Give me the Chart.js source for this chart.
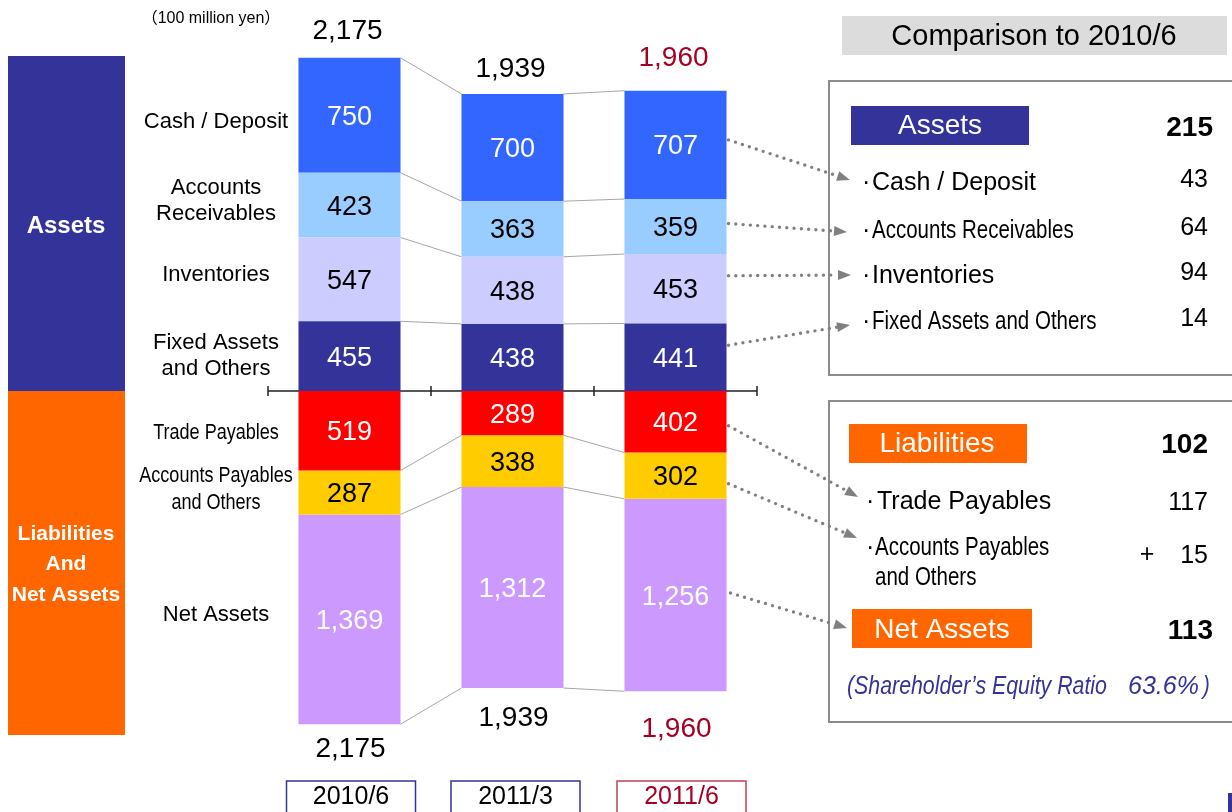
<!DOCTYPE html>
<html>
<head>
<meta charset="utf-8">
<script src="https://cdn.jsdelivr.net/npm/chart.js@4.4.1/dist/chart.umd.min.js"></script>
<style>
  html, body { margin: 0; padding: 0; background: #fff; }
</style>
</head>
<body>
<canvas id="balanco" width="1232" height="812"></canvas>
<script>
// Periods and balance sheet values (100 million yen)
var periods = ["2010/6", "2011/3", "2011/6"];
var cashDeposit = [750, 700, 707];
var receivables = [423, 363, 359];
var inventories = [547, 438, 453];
var fixedAssets = [455, 438, 441];
var tradePayables = [519, 289, 402];
var otherPayables = [287, 338, 302];
var netAssets = [1369, 1312, 1256];
var totals = [2175, 1939, 1960];
var equityRatio = "63.6%";

// Liabilities go below the zero line
function negativo(arr) {
  return arr.map(function (v) { return -v; });
}

var FONTE = "'Liberation Sans', Arial, sans-serif";

function texto(ctx, str, x, y, size, opts) {
  opts = opts || {};
  ctx.save();
  ctx.font = (opts.italic ? "italic " : "") + (opts.bold ? "bold " : "") + size + "px " + (opts.family || FONTE);
  ctx.fillStyle = opts.color || "#000";
  ctx.textAlign = opts.align || "center";
  ctx.textBaseline = "middle";
  ctx.translate(x, y);
  ctx.scale(opts.narrow ? 0.82 : 1, 1);
  ctx.fillText(str, 0, 0);
  ctx.restore();
}

function seta(ctx, x1, y1, x2, y2) {
  var ang = Math.atan2(y2 - y1, x2 - x1);
  var ex = x2 - 13 * Math.cos(ang);
  var ey = y2 - 13 * Math.sin(ang);
  ctx.save();
  ctx.strokeStyle = "#808080";
  ctx.fillStyle = "#808080";
  ctx.lineWidth = 3.4;
  ctx.lineCap = "round";
  ctx.setLineDash([0, 7.3]);
  ctx.beginPath();
  ctx.moveTo(x1, y1);
  ctx.lineTo(ex, ey);
  ctx.stroke();
  ctx.setLineDash([]);
  ctx.beginPath();
  ctx.moveTo(x2, y2);
  ctx.lineTo(ex + 5 * Math.sin(ang), ey - 5 * Math.cos(ang));
  ctx.lineTo(ex - 5 * Math.sin(ang), ey + 5 * Math.cos(ang));
  ctx.closePath();
  ctx.fill();
  ctx.restore();
}

// Rectangle of one bar segment, taken from the chart elements
function retangulo(chart, di, j) {
  var el = chart.getDatasetMeta(di).data[j];
  var w = el.width;
  return {
    left: el.x - w / 2,
    right: el.x + w / 2,
    top: Math.min(el.y, el.base),
    bottom: Math.max(el.y, el.base),
    cx: el.x,
    cy: (el.y + el.base) / 2,
  };
}

// dataset index, left label lines, narrow font, label colour inside bar
var ordem = [
  { di: 3, nome: ["Cash / Deposit"], narrow: false, dy: 7, cor: "#fff", lista: "Cash / Deposit", listaNarrow: false },
  { di: 2, nome: ["Accounts", "Receivables"], narrow: false, dy: -4, cor: "#000", lista: "Accounts Receivables", listaNarrow: true },
  { di: 1, nome: ["Inventories"], narrow: false, dy: -4, cor: "#000", lista: "Inventories", listaNarrow: false },
  { di: 0, nome: ["Fixed Assets", "and Others"], narrow: false, dy: 0, cor: "#fff", lista: "Fixed Assets and Others", listaNarrow: true },
  { di: 4, nome: ["Trade Payables"], narrow: true, dy: 2, cor: "#fff" },
  { di: 5, nome: ["Accounts Payables", "and Others"], narrow: true, dy: -3, cor: "#000" },
  { di: 6, nome: ["Net Assets"], narrow: false, dy: -4, cor: "#fff" },
];

var painel = {
  id: "painel",
  beforeDatasetsDraw: function (chart) {
    var ctx = chart.ctx;
    var area = chart.chartArea;
    var y0 = chart.scales.y.getPixelForValue(0);

    // Thin lines joining the segment edges of neighbouring bars
    ctx.save();
    ctx.strokeStyle = "#a6a6a6";
    ctx.lineWidth = 1;
    for (var di = 0; di < 7; di++) {
      for (var j = 0; j < periods.length - 1; j++) {
        var a = retangulo(chart, di, j);
        var b = retangulo(chart, di, j + 1);
        var ya = di < 4 ? a.top : a.bottom;
        var yb = di < 4 ? b.top : b.bottom;
        ctx.beginPath();
        ctx.moveTo(a.right, ya);
        ctx.lineTo(b.left, yb);
        ctx.stroke();
      }
    }
    ctx.restore();

    // Zero line with ticks at the category edges
    ctx.save();
    ctx.strokeStyle = "#222";
    ctx.lineWidth = 1.5;
    ctx.beginPath();
    ctx.moveTo(area.left, y0);
    ctx.lineTo(area.right, y0);
    var passo = (area.right - area.left) / periods.length;
    for (var k = 0; k <= periods.length; k++) {
      var xt = area.left + k * passo;
      ctx.moveTo(xt, y0 - 5);
      ctx.lineTo(xt, y0 + 5);
    }
    ctx.stroke();
    ctx.restore();
  },
  afterDraw: function (chart) {
    var ctx = chart.ctx;
    var y0 = chart.scales.y.getPixelForValue(0);

    // Left side blocks
    ctx.fillStyle = "#333399";
    ctx.fillRect(8, 56, 117, y0 - 56);
    ctx.fillStyle = "#FF6600";
    ctx.fillRect(8, y0, 117, 735 - y0);
    texto(ctx, "Assets", 66, 226, 24, { bold: true, color: "#fff" });
    texto(ctx, "Liabilities", 66, 534, 21, { bold: true, color: "#fff" });
    texto(ctx, "And", 66, 564, 21, { bold: true, color: "#fff" });
    texto(ctx, "Net Assets", 66, 595, 21, { bold: true, color: "#fff" });

    texto(ctx, "\uFF08100 million yen\uFF09", 211, 19, 16, { family: FONTE + ", 'Noto Sans CJK JP'" });

    // Segment values and the category labels beside the first bar
    ordem.forEach(function (s) {
      var ds = chart.data.datasets[s.di].data;
      for (var j = 0; j < periods.length; j++) {
        var r = retangulo(chart, s.di, j);
        texto(ctx, Math.abs(ds[j]).toLocaleString("en-US"), r.cx, r.cy + 2, 27, { color: s.cor });
      }
      var r0 = retangulo(chart, s.di, 0);
      var n = s.nome.length;
      s.nome.forEach(function (linha, i) {
        texto(ctx, linha, 216, r0.cy + s.dy + (i - (n - 1) / 2) * 26.5, 22, { narrow: s.narrow });
      });
    });

    // Totals above and below each bar
    var corTotal = ["#000", "#000", "#A50021"];
    var acima = [27, 25, 32];
    var abaixo = [25, 30, 38];
    for (var j = 0; j < periods.length; j++) {
      var topo = retangulo(chart, 3, j);
      var base = retangulo(chart, 6, j);
      texto(ctx, totals[j].toLocaleString("en-US"), topo.cx - 2, topo.top - acima[j], 28, { color: corTotal[j] });
      texto(ctx, totals[j].toLocaleString("en-US"), base.cx + 1, base.bottom + abaixo[j], 28, { color: corTotal[j] });
    }

    // Period boxes at the bottom
    var corBorda = ["#333399", "#333399", "#C0405A"];
    var corPeriodo = ["#000", "#000", "#A50021"];
    var desloc = [1.5, 3, 6];
    for (var j = 0; j < periods.length; j++) {
      var cx = retangulo(chart, 0, j).cx + desloc[j];
      ctx.save();
      ctx.strokeStyle = corBorda[j];
      ctx.lineWidth = 1.5;
      ctx.strokeRect(cx - 64.5, 781, 129, 40);
      ctx.restore();
      texto(ctx, periods[j], cx, 797, 25, { color: corPeriodo[j] });
    }

    // Comparison panel
    ctx.fillStyle = "#dcdcdc";
    ctx.fillRect(842, 16, 385, 39);
    texto(ctx, "Comparison to 2010/6", 1034, 37, 29);

    ctx.save();
    ctx.strokeStyle = "#8c8c8c";
    ctx.lineWidth = 2;
    ctx.strokeRect(829, 81, 420, 294);
    ctx.strokeRect(829, 401, 420, 321);
    ctx.restore();

    var ult = periods.length - 1;
    function delta(arr) { return arr[0] - arr[ult]; }

    // Assets part
    ctx.fillStyle = "#333399";
    ctx.fillRect(851, 106, 178, 39);
    texto(ctx, "Assets", 940, 126, 28, { color: "#fff" });
    texto(ctx, String(totals[0] - totals[ult]), 1213, 128, 28, { bold: true, align: "right" });

    var yLista = [183, 231, 276, 322];
    var fimSeta = [[850, 180], [847, 232], [851, 275], [850, 325]];
    var inicioDy = [-5, -3, -13, -12];
    for (var i = 0; i < 4; i++) {
      var s = ordem[i];
      var arr = chart.data.datasets[s.di].data;
      texto(ctx, "\u00B7", 862, yLista[i], 25, { align: "left" });
      texto(ctx, s.lista, 872, yLista[i], 25, { align: "left", narrow: s.listaNarrow });
      texto(ctx, String(delta(arr)), 1208, yLista[i] - 3, 25, { align: "right" });
      var r = retangulo(chart, s.di, ult);
      seta(ctx, r.right + 2, r.cy + inicioDy[i], fimSeta[i][0], fimSeta[i][1]);
    }

    // Liabilities and net assets part
    ctx.fillStyle = "#FF6600";
    ctx.fillRect(849, 424, 178, 39);
    ctx.fillRect(852, 609, 180, 39);
    texto(ctx, "Liabilities", 937, 444, 28, { color: "#fff" });
    texto(ctx, "Net Assets", 942, 630, 28, { color: "#fff" });

    var dPass = delta(tradePayables) + delta(otherPayables);
    texto(ctx, String(dPass), 1208, 445, 28, { bold: true, align: "right" });
    texto(ctx, String(delta(netAssets)), 1213, 631, 28, { bold: true, align: "right" });

    texto(ctx, "\u00B7", 866, 502, 25, { align: "left" });
    texto(ctx, "Trade Payables", 877, 502, 25, { align: "left" });
    texto(ctx, String(delta(tradePayables)), 1208, 503, 25, { align: "right" });

    texto(ctx, "\u00B7", 866, 548, 25, { align: "left" });
    texto(ctx, "Accounts Payables", 875, 548, 25, { align: "left", narrow: true });
    texto(ctx, "and Others", 875, 578, 25, { align: "left", narrow: true });
    var dOutros = delta(otherPayables);
    if (dOutros < 0) {
      texto(ctx, "+", 1147, 555, 25);
    }
    texto(ctx, String(Math.abs(dOutros)), 1208, 556, 25, { align: "right" });

    var rT = retangulo(chart, 4, ult);
    var rA = retangulo(chart, 5, ult);
    var rN = retangulo(chart, 6, ult);
    seta(ctx, rT.right + 2, rT.cy + 4, 858, 497);
    seta(ctx, rA.right + 2, rA.cy + 8, 857, 538);
    seta(ctx, rN.right + 4, rN.cy - 2, 847, 628);

    texto(ctx, "(Shareholder\u2019s Equity Ratio", 847, 687, 26, { align: "left", italic: true, narrow: true, color: "#333399" });
    texto(ctx, equityRatio, 1128, 687, 25, { align: "left", italic: true, color: "#333399" });
    texto(ctx, ")", 1203, 687, 25, { align: "left", italic: true, narrow: true, color: "#333399" });

    // corner mark
    ctx.fillStyle = "#333399";
    ctx.fillRect(1228, 793, 4, 19);
  },
};

var ctx = document.getElementById("balanco").getContext("2d");
var grafico = new Chart(ctx, {
  type: "bar",
  data: {
    labels: periods,
    datasets: [
      { label: "Fixed Assets and Others", data: fixedAssets, backgroundColor: "#333399" },
      { label: "Inventories", data: inventories, backgroundColor: "#CCCCFF" },
      { label: "Accounts Receivables", data: receivables, backgroundColor: "#99CCFF" },
      { label: "Cash / Deposit", data: cashDeposit, backgroundColor: "#3366FF" },
      { label: "Trade Payables", data: negativo(tradePayables), backgroundColor: "#FF0000" },
      { label: "Accounts Payables and Others", data: negativo(otherPayables), backgroundColor: "#FFCC00" },
      { label: "Net Assets", data: negativo(netAssets), backgroundColor: "#CC99FF" },
    ],
  },
  options: {
    responsive: false,
    devicePixelRatio: 1,
    animation: false,
    layout: { padding: { left: 268, right: 475, top: 8, bottom: 38 } },
    datasets: { bar: { categoryPercentage: 0.626, barPercentage: 1, borderWidth: 0 } },
    scales: {
      x: { display: false, stacked: true },
      y: { display: false, stacked: true, min: -2500, max: 2500 },
    },
    plugins: {
      legend: { display: false },
      tooltip: { enabled: false },
    },
  },
  plugins: [painel],
});
</script>
</body>
</html>
